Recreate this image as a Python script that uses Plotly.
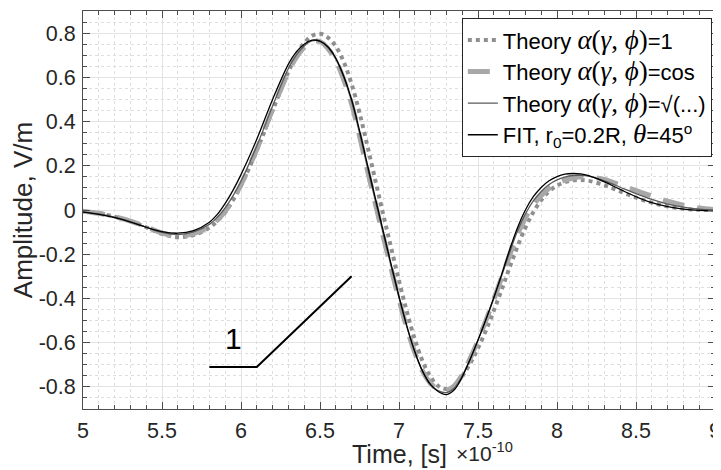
import plotly.graph_objects as go

# ---- data ----
time_ticks = [5.0, 5.1, 5.2, 5.3, 5.4, 5.5, 5.6, 5.7, 5.8, 5.85, 5.9, 5.95, 6.0, 6.1, 6.2, 6.3,
              6.35, 6.4, 6.45, 6.5, 6.55, 6.6, 6.65, 6.7, 6.75, 6.8, 6.85, 6.9, 6.95, 7.0, 7.05,
              7.1, 7.15, 7.2, 7.25, 7.3, 7.35, 7.4, 7.45, 7.5, 7.55, 7.6, 7.65, 7.7, 7.75, 7.8,
              7.85, 7.9, 7.95, 8.0, 8.05, 8.1, 8.15, 8.2, 8.3, 8.4, 8.5, 8.6, 8.7, 8.8, 8.9, 9.0]

theory_one = [-0.005, -0.015, -0.03, -0.05, -0.078, -0.108, -0.123, -0.113, -0.08,
              -0.05, -0.01, 0.045, 0.11,
              0.27, 0.45, 0.625,
              0.70, 0.755, 0.788, 0.797, 0.78, 0.74, 0.67, 0.57, 0.44, 0.29, 0.135, -0.02, -0.17,
              -0.32, -0.46, -0.585, -0.685, -0.755, -0.797, -0.81, -0.795, -0.752, -0.695, -0.625,
              -0.545, -0.455, -0.36, -0.26, -0.165, -0.08, -0.01, 0.045, 0.085, 0.11, 0.126, 0.134,
              0.136, 0.132,
              0.112, 0.084, 0.056, 0.033, 0.016, 0.006, 0.001, 0.0]

theory_cos = [-0.005, -0.015, -0.03, -0.05, -0.076, -0.104, -0.118, -0.107, -0.075,
              -0.045, -0.005, 0.05, 0.115,
              0.275, 0.455, 0.625,
              0.69, 0.735, 0.76, 0.762, 0.73, 0.675, 0.59, 0.48, 0.335, 0.18, 0.03, -0.12, -0.265,
              -0.405, -0.535, -0.645, -0.73, -0.785, -0.812, -0.815, -0.795, -0.745, -0.672, -0.59,
              -0.50, -0.405, -0.305, -0.205, -0.11, -0.035, 0.022, 0.065, 0.098, 0.12, 0.135, 0.145,
              0.15, 0.15,
              0.138, 0.113, 0.088, 0.063, 0.04, 0.022, 0.009, 0.002]

theory_sqrt = [-0.008, -0.018, -0.032, -0.052, -0.078, -0.101, -0.111, -0.099, -0.065,
               -0.033, 0.01, 0.065, 0.13,
               0.29, 0.47, 0.64,
               0.70, 0.742, 0.765, 0.763, 0.735, 0.682, 0.60, 0.49, 0.348, 0.193, 0.043, -0.107,
               -0.255, -0.398, -0.53, -0.643, -0.732, -0.79, -0.818, -0.826, -0.805, -0.75, -0.674,
               -0.589, -0.497, -0.40, -0.297, -0.193, -0.095, -0.018, 0.041, 0.084, 0.115, 0.136,
               0.149, 0.156, 0.157, 0.153,
               0.132, 0.103, 0.074, 0.048, 0.027, 0.013, 0.004, 0.0]

fit_curve = [-0.01, -0.02, -0.035, -0.055, -0.078, -0.098, -0.105, -0.093, -0.055,
             -0.02, 0.03, 0.09, 0.16,
             0.32, 0.50, 0.66,
             0.715, 0.75, 0.768, 0.764, 0.738, 0.687, 0.606, 0.50, 0.36, 0.205, 0.055, -0.095,
             -0.245, -0.39, -0.525, -0.64, -0.73, -0.79, -0.822, -0.835, -0.813, -0.755, -0.676,
             -0.588, -0.495, -0.396, -0.29, -0.18, -0.08, 0.0, 0.06, 0.102, 0.132, 0.151, 0.162,
             0.165, 0.163, 0.155,
             0.127, 0.093, 0.06, 0.033, 0.015, 0.004, -0.002, -0.003]

marker_x = [5.8, 6.1, 6.7]
marker_y = [-0.71, -0.71, -0.3]
marker_label = "1"
marker_label_pos = (5.95, -0.58)

x_tick_vals = [5, 5.5, 6, 6.5, 7, 7.5, 8, 8.5, 9]
x_tick_text = ["5", "5.5", "6", "6.5", "7", "7.5", "8", "8.5", "9"]
y_tick_vals = [-0.8, -0.6, -0.4, -0.2, 0, 0.2, 0.4, 0.6, 0.8]
y_tick_text = ["-0.8", "-0.6", "-0.4", "-0.2", "0", "0.2", "0.4", "0.6", "0.8"]

x_title = "Time, [s]"
x_exponent = "×10<sup>-10</sup>"
y_title = "Amplitude, V/m"

SERIF = '<span style="font-family:Liberation Serif;font-size:27px">'
AGP = SERIF + '<i>α</i>(<i>γ</i>, <i>ϕ</i>)</span>'
names = [
    "Theory " + AGP + "=1",
    "Theory " + AGP + "=cos",
    "Theory " + AGP + "=√(...)",
    "FIT, r<sub>0</sub>=0.2R, " + SERIF + "<i>θ</i></span>=45<sup>o</sup>",
]

FONT = "Liberation Sans, Arial, Helvetica, sans-serif"
TXT = "#262626"
AX = "#4d4d4d"

fig = go.Figure()
fig.add_trace(go.Scatter(x=time_ticks, y=theory_one, mode="lines", name=names[0],
                         line=dict(color="#8f8f8f", width=4, dash="4px,4px", shape="spline"),
                         legendgroup="a"))
fig.add_trace(go.Scatter(x=time_ticks, y=theory_cos, mode="lines", name=names[1],
                         line=dict(color="#a8a8a8", width=5, dash="22px,13px", shape="spline"),
                         legendgroup="b"))
fig.add_trace(go.Scatter(x=time_ticks, y=theory_sqrt, mode="lines", name=names[2],
                         line=dict(color="#5a5a5a", width=1.3, shape="spline"),
                         legendgroup="c"))
fig.add_trace(go.Scatter(x=time_ticks, y=fit_curve, mode="lines", name=names[3],
                         line=dict(color="#000000", width=1.3, shape="spline"),
                         legendgroup="d"))
fig.add_trace(go.Scatter(x=marker_x, y=marker_y, mode="lines", showlegend=False,
                         line=dict(color="#000000", width=2), hoverinfo="skip"))

fig.add_annotation(x=marker_label_pos[0], y=marker_label_pos[1], xref="x", yref="y",
                   text=marker_label, showarrow=False,
                   font=dict(family=FONT, size=30, color="#000000"))

# x-axis title and its MATLAB-style exponent label
fig.add_annotation(x=0.5, y=-0.113, xref="paper", yref="paper",
                   text=x_title, showarrow=False, xanchor="center", yanchor="middle",
                   font=dict(family=FONT, size=25, color=TXT))
fig.add_annotation(x=0.587, y=-0.109, xref="paper", yref="paper",
                   text=x_exponent, showarrow=False, xanchor="left", yanchor="middle",
                   font=dict(family=FONT, size=21, color=TXT))

axis_common = dict(
    showline=True, linecolor=AX, linewidth=1, mirror="allticks",
    ticks="inside", ticklen=7, tickcolor=AX, tickwidth=1,
    showgrid=True, gridcolor="#e3e3e3", gridwidth=1, zeroline=False,
    tickfont=dict(family=FONT, size=21.5, color=TXT), automargin=False,
)

fig.update_xaxes(range=[5, 9], tickvals=x_tick_vals, ticktext=x_tick_text,
                 minor=dict(dtick=0.1, tick0=5, ticks="inside", ticklen=4, tickcolor=AX,
                            showgrid=True, gridcolor="#dedede", griddash="dot"),
                 ticklabelstandoff=2,
                 **axis_common)
fig.update_yaxes(range=[-0.9, 0.9], tickvals=y_tick_vals, ticktext=y_tick_text,
                 minor=dict(dtick=0.05, tick0=0, ticks="inside", ticklen=4, tickcolor=AX,
                            showgrid=True, gridcolor="#dedede", griddash="dot"),
                 title=dict(text=y_title, font=dict(family=FONT, size=26, color=TXT), standoff=3),
                 ticklabelstandoff=2,
                 **axis_common)

# the page body adds an 8 px offset, so size and margins are reduced to compensate
fig.update_layout(
    width=713, height=462,
    margin=dict(l=75, r=6, t=3, b=61),
    plot_bgcolor="white", paper_bgcolor="white",
    font=dict(family=FONT, color=TXT),
    legend=dict(x=0.995, y=0.982, xanchor="right", yanchor="top",
                bgcolor="white", bordercolor="#262626", borderwidth=1,
                font=dict(family=FONT, size=22, color="#000000"),
                tracegroupgap=0, itemwidth=30),
    showlegend=True,
)

fig.write_html("out.html")
